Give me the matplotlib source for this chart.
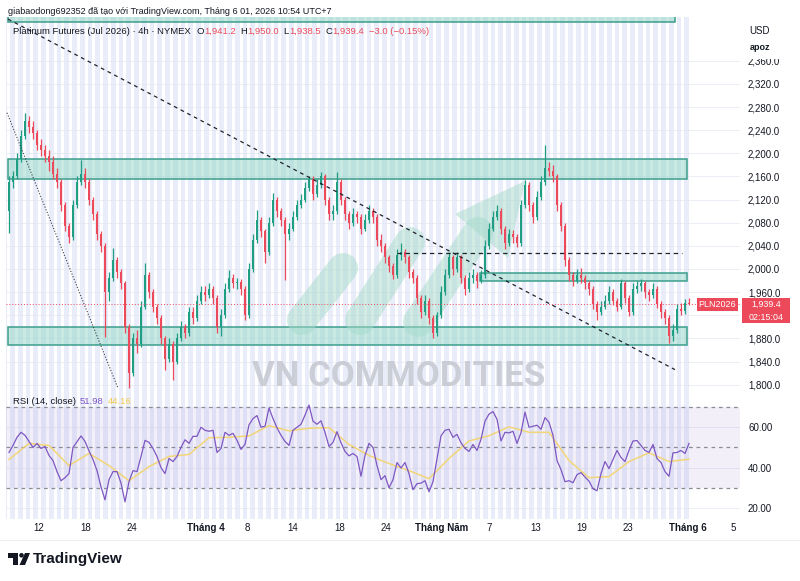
import numpy as np
import matplotlib
matplotlib.use("Agg")
import matplotlib.pyplot as plt
import matplotlib.transforms as mtransforms
from matplotlib.patches import Rectangle, Polygon, Circle
from matplotlib.lines import Line2D

plt.rcParams['font.family'] = ['Liberation Sans', 'DejaVu Sans']

# ---------------- data (4h candles) ----------------
first_open = 2100
closes = [
    2150, 2160, 2190, 2230, 2255, 2245, 2235, 2215, 2205, 2195,
    2185, 2165, 2150, 2110, 2075, 2055, 2110, 2150, 2165, 2150,
    2120, 2095, 2060, 2040, 1960, 1985, 2015, 1995, 1975, 1900,
    1820, 1880, 1870, 1935, 1990, 1960, 1935, 1915, 1880, 1845,
    1870, 1840, 1880, 1900, 1890, 1925, 1915, 1945, 1960, 1955,
    1965, 1950, 1900, 1920, 1965, 1985, 1975, 1978, 1965, 1920,
    2000, 2050, 2085, 2065, 2030, 2080, 2120, 2100, 2085, 2060,
    2070, 2090, 2110, 2120, 2140, 2155, 2130, 2145, 2160, 2120,
    2095, 2100, 2150, 2120, 2095, 2080, 2095, 2090, 2070, 2085,
    2100, 2090, 2050, 2040, 2020, 2005, 1990, 2025, 2030, 2020,
    1995, 1985, 1950, 1925, 1945, 1915, 1890, 1920, 1960, 1990,
    2020, 2000, 2020, 1985, 1965, 1985, 1990, 1980, 1990, 2040,
    2070, 2090, 2100, 2070, 2045, 2060, 2055, 2045, 2110, 2145,
    2110, 2090, 2125, 2150, 2175, 2170, 2160, 2110, 2075, 2015,
    1990, 1980, 1990, 1985, 1975, 1965, 1940, 1925, 1935, 1945,
    1960, 1945, 1935, 1975, 1950, 1925, 1965, 1970, 1975, 1960,
    1955, 1965, 1940, 1925, 1915, 1885, 1895, 1930, 1928, 1941.2,
    1939.4,
]
highs = [
    2160, 2170, 2200, 2240, 2270, 2265, 2255, 2240, 2225, 2215,
    2205, 2195, 2175, 2155, 2115, 2080, 2120, 2160, 2188, 2175,
    2155, 2125, 2100, 2065, 2045, 1995, 2036, 2020, 2000, 1980,
    1905, 1890, 1895, 1945, 2010, 1995, 1965, 1940, 1920, 1885,
    1880, 1875, 1890, 1910, 1905, 1935, 1935, 1955, 1970, 1970,
    1975, 1970, 1955, 1930, 1975, 1998, 1992, 1985, 1982, 1970,
    2010, 2060, 2102, 2090, 2070, 2090, 2131, 2125, 2105, 2090,
    2080, 2100, 2120, 2130, 2150, 2160, 2160, 2155, 2168, 2165,
    2125, 2110, 2168, 2155, 2125, 2100, 2105, 2100, 2095, 2095,
    2110, 2105, 2095, 2060, 2045, 2025, 2010, 2035, 2045, 2035,
    2025, 2000, 1990, 1955, 1955, 1950, 1920, 1925, 1970, 2000,
    2030, 2025, 2030, 2025, 1990, 1995, 2000, 1995, 1998, 2050,
    2080, 2100, 2110, 2105, 2075, 2070, 2068, 2060, 2120, 2154,
    2150, 2115, 2135, 2160, 2214, 2185, 2180, 2165, 2115, 2080,
    2020, 1995, 2000, 2002, 1990, 1980, 1970, 1945, 1945, 1955,
    1970, 1965, 1950, 1982, 1980, 1955, 1975, 1980, 1982, 1980,
    1965, 1975, 1970, 1945, 1930, 1920, 1905, 1940, 1942, 1948,
    1950.0,
]
lows = [
    2062, 2140, 2155, 2185, 2225, 2235, 2225, 2205, 2195, 2185,
    2170, 2155, 2140, 2100, 2065, 2045, 2050, 2105, 2145, 2140,
    2110, 2085, 2050, 2030, 1883, 1945, 1980, 1985, 1965, 1890,
    1794, 1815, 1855, 1865, 1930, 1950, 1925, 1905, 1870, 1825,
    1840, 1808, 1835, 1875, 1880, 1885, 1905, 1910, 1940, 1945,
    1950, 1940, 1890, 1885, 1915, 1960, 1968, 1965, 1955, 1912,
    1915, 1995, 2045, 2055, 2010, 2025, 2075, 2090, 2075, 1981,
    2050, 2065, 2085, 2105, 2115, 2135, 2120, 2125, 2140, 2110,
    2085, 2085, 2095, 2110, 2085, 2070, 2075, 2080, 2060, 2065,
    2080, 2080, 2040, 2030, 2010, 1995, 1982, 1985, 2015, 2010,
    1985, 1975, 1940, 1915, 1920, 1905, 1880, 1885, 1915, 1955,
    1985, 1990, 1995, 1975, 1955, 1960, 1975, 1968, 1975, 1985,
    2035, 2065, 2085, 2060, 2035, 2040, 2045, 2038, 2040, 2105,
    2100, 2080, 2085, 2120, 2145, 2160, 2150, 2100, 2065, 2005,
    1980, 1970, 1975, 1975, 1965, 1955, 1930, 1912, 1920, 1930,
    1940, 1938, 1928, 1930, 1942, 1918, 1920, 1958, 1962, 1950,
    1945, 1950, 1932, 1915, 1905, 1872, 1875, 1890, 1920, 1922,
    1938.5,
]
rsi = [
    47.5, 51, 55, 57.5, 56, 53, 50, 52, 49.5, 50.5,
    46, 43.5, 38, 33.5, 35, 37, 50, 52.8, 55.7, 53,
    48.3, 44, 38.5, 30.5, 24, 34, 38, 38, 32.3, 23,
    33, 38.5, 38, 45.5, 53.5, 52.5, 49.5, 45.5, 40, 37,
    44.5, 43, 45.5, 50, 53.8, 52, 55.5, 55.5, 60, 58.5,
    58, 58.5, 47.5, 49.5, 57.5, 56, 57, 53.5, 49, 51.5,
    61.2, 64.3, 65.8, 60, 60.5, 69.5, 64.3, 59.7, 56, 53,
    51, 58.5, 60, 61.5, 66, 71, 63, 61.5, 63.2, 57.5,
    50.5, 52.5, 57.8, 52.3, 48, 45.8, 47, 45.5, 35.7, 46,
    52, 50, 41, 34, 36, 30, 34, 42.5, 39.8, 42.5,
    37, 29, 32, 32.3, 33.5, 28, 33, 44.5, 55.7, 58.5,
    59, 55, 56.5, 52.3, 49.5, 48, 51.5, 48.5, 54, 63,
    66.5, 67.8, 64, 53.2, 57.5, 57.2, 58, 52, 57.3, 67.5,
    60, 60.5, 61, 59, 64.8, 62.5, 56, 43.5, 39, 33,
    33.5, 32.5, 36.5, 37.5, 35.3, 33.3, 29.5, 28.5, 37, 43,
    39.5, 44, 48.5, 45, 43, 48.5, 53.2, 53.4, 51, 48.5,
    47.5, 51.5, 44.5, 42.5, 38, 35.7, 47.3, 47.5, 48.5, 47,
    51.98,
]
# RSI moving average, read every 5 bars
rsi_ma = [44, 52, 51, 41, 47, 41, 33.5, 40.5, 45.5, 46.5,
          54.8, 55, 55.7, 60.8, 58.2, 59.5, 59.8, 51.5, 46, 42,
          38.5, 34.5, 44.5, 53.2, 55.8, 60.2, 57.5, 57.5, 43.5, 35,
          35.5, 43, 47.3, 43, 44.16]
ma_step = 5

price_ticks = [1800, 1840, 1880, 1920, 1960, 2000, 2040, 2080, 2120, 2160,
               2200, 2240, 2280, 2320, 2360]
hidden_price_labels = {1920}          # covered by the last-price box in the chart
rsi_ticks = [20, 40, 60]
time_labels = ["12", "18", "24", "Tháng 4", "8", "14", "18", "24",
               "Tháng Năm", "7", "13", "19", "23", "Tháng 6", "5"]
time_label_bars = [7.5, 19.25, 30.75, 49.25, 59.5, 71, 82.75, 94.25,
                   108.25, 120, 131.75, 143.25, 154.75, 169.75, 181]
month_labels = {"Tháng 4", "Tháng Năm", "Tháng 6"}

# drawings (support / resistance zones, trend lines)
zones = [(2155, 2190, -0.25, 169.5), (1869, 1900, -0.25, 169.5),
         (1979, 1993, 117.75, 169.5), (2427, 2460, -0.25, 166.5)]
trend_dashed = [(-0.25, 2432), (166.5, 1826)]
trend_dotted = [(-0.5, 2270), (27.25, 1794)]
level_dashed = (2028, 97, 168.25)
last_price = 1939.4

# ---------------- figure ----------------
W, H = 800, 581
fig = plt.figure(figsize=(W / 100, H / 100), dpi=100)
fig.patch.set_facecolor('white')

GREEN = '#1f9e84'
RED = '#ec4a5a'
TXT = '#131722'
BAND = '#e8edf9'

x_lo, x_hi = -0.75, 182.75
last_bar = len(closes) - 1


def fx(px):
    return px / W


def fy(py):
    return 1 - py / H


ax = fig.add_axes([fx(6), fy(395), (740 - 6) / W, (395 - 17) / H])
axr = fig.add_axes([fx(6), fy(519), (740 - 6) / W, (519 - 395) / H])

for a in (ax, axr):
    a.set_xlim(x_lo, x_hi)
    a.set_facecolor('white')
    for s in a.spines.values():
        s.set_visible(False)
    a.axvspan(x_lo, last_bar + 0.6, color=BAND, lw=0, zorder=0)
    k = x_lo + 0.3
    while k < last_bar + 0.4:
        a.axvspan(k, k + 0.7, color='white', lw=0, zorder=0.1)
        k += 1.9375

ax.set_ylim(1782.2, 2435.6)
axr.set_ylim(14.5, 76)

# grid
for p in price_ticks:
    ax.axhline(p, color='#dfe3ee', lw=0.6, zorder=0.3, alpha=0.7)
for v in rsi_ticks:
    axr.axhline(v, color='#dfe3ee', lw=0.6, zorder=0.3, alpha=0.7)

# zones
for lo_, hi_, x0, x1 in zones:
    ax.add_patch(Rectangle((x0, lo_), x1 - x0, hi_ - lo_, facecolor='#92d6c6',
                           alpha=0.5, edgecolor='none', zorder=1))
    ax.add_patch(Rectangle((x0, lo_), x1 - x0, hi_ - lo_, facecolor='none',
                           edgecolor='#3c9e8b', lw=1.1, zorder=1.1))

# watermark logo (pixel coordinates)
pix = mtransforms.Affine2D().scale(1, -1).translate(0, H)
cap_col = '#a6dacb'
for (x0, y0, x1, y1) in [(302, 320, 343, 268), (360, 320, 410, 242), (418, 322, 478, 232)]:
    ax.add_line(Line2D([x0, x1], [y0, y1], lw=21.6, color=cap_col, alpha=0.5,
                       solid_capstyle='round', transform=pix, zorder=1.5))
ax.add_patch(Polygon([(455, 214), (525, 181), (508, 258)], closed=True, facecolor=cap_col,
                     alpha=0.5, edgecolor='none', transform=pix, zorder=1.5))

# candles
opens = [first_open] + closes[:-1]
idx = np.arange(len(closes))
o = np.array(opens, float)
c = np.array(closes, float)
hi = np.array(highs, float)
lo = np.array(lows, float)
cols = np.where(c >= o, GREEN, RED)
ax.vlines(idx, lo, hi, colors=cols, lw=0.9, zorder=3)
body = np.maximum(np.abs(c - o), 0.8)
ax.bar(idx, body, bottom=np.minimum(o, c), width=0.72, color=cols, lw=0, zorder=3.1)

# trend lines
ax.plot([p[0] for p in trend_dashed], [p[1] for p in trend_dashed], color='#1e222d',
        lw=0.9, dashes=(3, 3), zorder=4)
ax.plot([p[0] for p in trend_dotted], [p[1] for p in trend_dotted], color='#3a3e48',
        lw=0.8, dashes=(1, 1.6), zorder=4)
ax.plot([level_dashed[1], level_dashed[2]], [level_dashed[0]] * 2, color='#1e222d',
        lw=0.9, dashes=(3.5, 3), zorder=4)
ax.axhline(last_price, color=RED, lw=0.7, dashes=(1, 2), zorder=4)

# axes ticks
ax.yaxis.tick_right()
ax.set_yticks(price_ticks)
ax.set_yticklabels(["" if p in hidden_price_labels else f"{p:,.1f}" for p in price_ticks])
ax.tick_params(axis='y', length=0, pad=5.8, labelsize=7, labelcolor=TXT)
ax.set_xticks([])

# RSI pane
axr.axhspan(30, 70, color='#7e57c2', alpha=0.09, lw=0, zorder=0.5)
for v in (70, 50, 30):
    axr.axhline(v, color='#8a8d97', lw=0.9, dashes=(3, 3), zorder=1)
axr.plot(idx, rsi, color='#7e57c2', lw=0.9, zorder=3)
axr.plot(idx[::ma_step], rsi_ma, color='#f3d46a', lw=1.1, alpha=0.9, zorder=2.5)
axr.yaxis.tick_right()
axr.set_yticks(rsi_ticks)
axr.set_yticklabels([f"{v:.2f}" for v in rsi_ticks])
axr.tick_params(axis='y', length=0, pad=5.8, labelsize=7, labelcolor=TXT)
axr.set_xticks(time_label_bars)
axr.set_xticklabels(time_labels)
axr.tick_params(axis='x', length=0, pad=3, labelsize=7, labelcolor=TXT)
for lbl in axr.get_xticklabels():
    if lbl.get_text() in month_labels:
        lbl.set_fontweight('bold')

# ---------------- overlay (pixel coordinates) ----------------
ov = fig.add_axes([0, 0, 1, 1], zorder=10)
ov.set_xlim(0, W)
ov.set_ylim(H, 0)
ov.axis('off')
ov.patch.set_alpha(0)

ov.text(8, 11, "giabaodong692352 đã tạo với TradingView.com, Tháng 6 01, 2026 10:54 UTC+7",
        fontsize=6.5, color=TXT, va='center', ha='left')


def chain(x, y, pieces, size=6.8):
    t = ov.text(x, y, pieces[0][0], color=pieces[0][1], fontsize=size, va='center', ha='left')
    for txt, col, gap in pieces[1:]:
        t = ov.annotate(txt, xy=(1, 0.5), xycoords=t, xytext=(gap, 0),
                        textcoords='offset points', color=col, fontsize=size,
                        va='center', ha='left')
    return t


pieces = [("Platinum Futures (Jul 2026) · 4h · NYMEX", TXT),
          ("O", TXT, 4), ("1,941.2", RED, 0), ("H", TXT, 3.5), ("1,950.0", RED, 0),
          ("L", TXT, 3.5), ("1,938.5", RED, 0), ("C", TXT, 3.5), ("1,939.4", RED, 0),
          ("−3.0 (−0.15%)", RED, 3.5)]
chain(13, 31, pieces)

chain(13, 402, [("RSI (14, close)", TXT), ("51.98", '#7e57c2', 3), ("44.16", '#f2c94c', 3)])

# watermark text
ov.text(399, 376, "VN COMMODITIES", fontsize=25, fontweight='bold', color='#c7cad3',
        ha='center', va='center', family=['Roboto', 'DejaVu Sans'], alpha=0.9)

# right header / price labels
ov.add_patch(Rectangle((741, 0), 59, 59, facecolor='white', edgecolor='none'))
ov.text(760, 31, "USD", fontsize=7, color=TXT, ha='center', va='center')
ov.text(760, 48, "apoz", fontsize=6.5, color=TXT, ha='center', va='center', fontweight='bold')
ov.add_patch(Rectangle((697, 298), 41, 13, facecolor=RED, edgecolor='none'))
ov.text(717.5, 304.5, "PLN2026", fontsize=6.5, color='white', ha='center', va='center')
ov.add_patch(Rectangle((742, 298), 48, 25, facecolor=RED, edgecolor='none'))
ov.text(766, 304, f"{last_price:,.1f}", fontsize=6.4, color='white', ha='center', va='center')
ov.text(766, 317, "02:15:04", fontsize=6.4, color='white', ha='center', va='center')

# bottom separator and TradingView logo
ov.plot([0, W], [540, 540], color='#eceef3', lw=0.8)
ov.add_patch(Rectangle((8, 553), 10, 4.5, facecolor='#131722', edgecolor='none'))
ov.add_patch(Rectangle((12.5, 553), 5.5, 12, facecolor='#131722', edgecolor='none'))
ov.add_patch(Circle((21.5, 555.3), 2.3, facecolor='#131722', edgecolor='none'))
ov.add_patch(Polygon([(25, 553), (30, 553), (25, 565), (19.5, 565)], closed=True,
                     facecolor='#131722', edgecolor='none'))
ov.text(33, 559, "TradingView", fontsize=11, fontweight='bold', color='#131722',
        ha='left', va='center')

fig.savefig("out.png", dpi=100, facecolor='white')
